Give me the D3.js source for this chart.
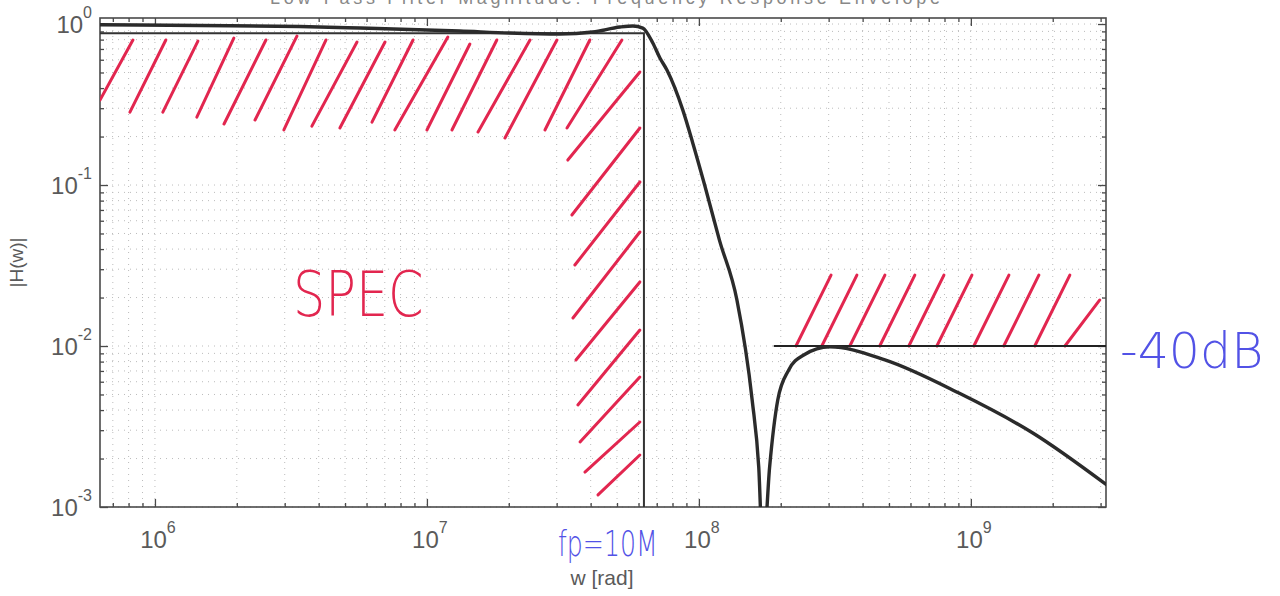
<!DOCTYPE html>
<html>
<head>
<meta charset="utf-8">
<script src="https://cdn.jsdelivr.net/npm/d3@7"></script>
<style>
  body { margin: 0; background: #fff; }
  svg { display: block; font-family: "Liberation Sans", Arial, sans-serif; }
</style>
</head>
<body>
<svg id="chart" width="1280" height="596"></svg>
<script>
// axis ranges
const xDomain = [6.28e5, 3.14e9];
const yDomain = [1e-3, 1.09];

// tick labels (exponents of the decades)
const xMajor = [1e6, 1e7, 1e8, 1e9];
const xExp = ["6", "7", "8", "9"];
const yMajor = [1e-3, 1e-2, 1e-1, 1];
const yExp = ["-3", "-2", "-1", "0"];

// filter response: w [rad], |H(w)|
const respW = [6.28e5, 1.46e6, 3.41e6, 5.68e6, 1.32e7, 2.02e7, 3.08e7, 4.07e7, 5.13e7, 5.72e7,
               6.22e7, 6.77e7, 7.19e7, 7.63e7, 8.73e7, 9.50e7, 1.05e8, 1.19e8, 1.38e8, 1.57e8,
               1.66e8, 1.72e8, 1.82e8, 1.95e8, 2.14e8, 2.43e8, 3.03e8, 4.83e8, 9.04e8, 1.69e9, 3.16e9];
const respH = [0.99, 0.98, 0.965, 0.944, 0.905, 0.879, 0.867, 0.892, 0.958, 0.972,
               0.944, 0.762, 0.615, 0.518, 0.292, 0.182, 0.100, 0.0455, 0.0193, 0.00462,
               0.00177, 0.0005, 0.00177, 0.00462, 0.0071, 0.0088, 0.0099, 0.0082, 0.0051, 0.00288, 0.00137];

// spec envelope
const passEdge = 6.28e7;   // fp = 10 MHz
const passLevel = 0.875;
const stopEdge = 1.885e8;
const stopLevel = 0.01;    // -40 dB

// hand drawn hatching, [log10 w bottom, log10 H bottom, log10 w top, log10 H top]
const passHatch = [
  [5.798, -0.472, 5.919, -0.099], [5.908, -0.547, 6.040, -0.099], [6.029, -0.547, 6.158, -0.106],
  [6.154, -0.578, 6.290, -0.087], [6.254, -0.621, 6.408, -0.099], [6.368, -0.596, 6.522, -0.075],
  [6.474, -0.658, 6.629, -0.099], [6.577, -0.634, 6.743, -0.112], [6.680, -0.646, 6.846, -0.112],
  [6.798, -0.609, 6.949, -0.099], [6.882, -0.658, 7.077, -0.081], [7.000, -0.658, 7.158, -0.124],
  [7.092, -0.658, 7.257, -0.099], [7.188, -0.671, 7.379, -0.099], [7.287, -0.708, 7.478, -0.099],
  [7.434, -0.658, 7.599, -0.099], [7.515, -0.646, 7.717, -0.099]
];
const edgeHatch = [
  [7.518, -0.845, 7.783, -0.298], [7.533, -1.186, 7.783, -0.646], [7.544, -1.497, 7.783, -0.981],
  [7.537, -1.826, 7.783, -1.292], [7.548, -2.087, 7.783, -1.602], [7.555, -2.366, 7.783, -1.901],
  [7.563, -2.596, 7.783, -2.193], [7.581, -2.783, 7.783, -2.472], [7.629, -2.925, 7.783, -2.677]
];
const stopHatch = [
  [8.357, -2.0, 8.486, -1.56], [8.452, -2.0, 8.581, -1.56], [8.555, -2.0, 8.684, -1.56],
  [8.665, -2.0, 8.794, -1.56], [8.772, -2.0, 8.901, -1.56], [8.875, -2.0, 9.004, -1.56],
  [9.011, -2.0, 9.140, -1.56], [9.121, -2.0, 9.250, -1.56], [9.235, -2.0, 9.364, -1.56],
  [9.346, -2.0, 9.474, -1.714]
];

const width = 1280, height = 596;
const margin = { top: 18, right: 174, bottom: 89, left: 100 };
const x0 = margin.left, x1 = width - margin.right;
const y0 = height - margin.bottom, y1 = margin.top;

const svg = d3.select("#chart");

const x = d3.scaleLog().domain(xDomain).range([x0, x1]);
const y = d3.scaleLog().domain(yDomain).range([y0, y1]);

const axisColor = "#4a4a4a";
const red = "#e2264f";
const blue = "#5252e6";

// title, mostly cut off at top of the scan
svg.append("text")
  .attr("x", 605).attr("y", 4)
  .attr("text-anchor", "middle")
  .attr("font-size", 18)
  .attr("fill", "#888")
  .attr("textLength", 670)
  .text("Low-Pass Filter Magnitude: Frequency Response Envelope");

svg.append("defs").append("clipPath").attr("id", "plot")
  .append("rect").attr("x", x0).attr("y", y1).attr("width", x1 - x0).attr("height", y0 - y1);

// dotted grid
const grid = svg.append("g")
  .attr("stroke", "#999")
  .attr("stroke-width", 1)
  .attr("stroke-dasharray", "1,5")
  .attr("opacity", 0.65);
grid.selectAll("line.gx").data(x.ticks()).join("line")
  .attr("class", "gx")
  .attr("x1", d => x(d)).attr("x2", d => x(d))
  .attr("y1", y1).attr("y2", y0);
grid.selectAll("line.gy").data(y.ticks()).join("line")
  .attr("class", "gy")
  .attr("x1", x0).attr("x2", x1)
  .attr("y1", d => y(d)).attr("y2", d => y(d));

// ticks on all four sides, pointing inward
const tickAxis = (axis, values, size, transform) => {
  const g = svg.append("g")
    .attr("transform", transform)
    .call(axis.tickValues(values).tickSize(size).tickSizeOuter(0).tickFormat(""));
  g.select(".domain").remove();
  g.selectAll("line").attr("stroke", axisColor).attr("stroke-width", 1.3);
};
const minorX = x.ticks().filter(d => !xMajor.includes(d));
const minorY = y.ticks().filter(d => !yMajor.includes(d));
tickAxis(d3.axisBottom(x), xMajor, -8, `translate(0,${y0})`);
tickAxis(d3.axisBottom(x), minorX, -4, `translate(0,${y0})`);
tickAxis(d3.axisTop(x), xMajor, -8, `translate(0,${y1})`);
tickAxis(d3.axisTop(x), minorX, -4, `translate(0,${y1})`);
tickAxis(d3.axisLeft(y), yMajor, -8, `translate(${x0},0)`);
tickAxis(d3.axisLeft(y), minorY, -4, `translate(${x0},0)`);
tickAxis(d3.axisRight(y), yMajor, -8, `translate(${x1},0)`);
tickAxis(d3.axisRight(y), minorY, -4, `translate(${x1},0)`);

// box
svg.append("rect")
  .attr("x", x0).attr("y", y1)
  .attr("width", x1 - x0).attr("height", y0 - y1)
  .attr("fill", "none")
  .attr("stroke", axisColor)
  .attr("stroke-width", 1.6);

// tick labels 10^n
const xl = svg.append("g").attr("fill", "#5a5a5a").attr("font-size", 24);
xMajor.forEach((v, i) => {
  const t = xl.append("text")
    .attr("x", x(v) + 3).attr("y", y0 + 41)
    .attr("text-anchor", "middle");
  t.append("tspan").text("10");
  t.append("tspan").attr("dy", -15).attr("font-size", 16).text(xExp[i]);
});
const yl = svg.append("g").attr("fill", "#5a5a5a").attr("font-size", 24);
yMajor.forEach((v, i) => {
  const t = yl.append("text")
    .attr("x", x0 - 8).attr("y", y(v) + 9)
    .attr("text-anchor", "end");
  t.append("tspan").text("10");
  t.append("tspan").attr("dy", -15).attr("font-size", 16).text(yExp[i]);
});

// axis titles
svg.append("text")
  .attr("x", 602).attr("y", 585)
  .attr("text-anchor", "middle")
  .attr("font-size", 21)
  .attr("fill", "#5a5a5a")
  .text("w [rad]");
svg.append("text")
  .attr("transform", `translate(23,${(y0 + y1) / 2}) rotate(-90)`)
  .attr("text-anchor", "middle")
  .attr("font-size", 19)
  .attr("fill", "#5a5a5a")
  .text("|H(w)|");

const plot = svg.append("g").attr("clip-path", "url(#plot)");

// hatching
const hatch = plot.append("g")
  .attr("stroke", red)
  .attr("stroke-width", 3)
  .attr("stroke-linecap", "round")
  .attr("fill", "none");
hatch.selectAll("line")
  .data(passHatch.concat(edgeHatch, stopHatch))
  .join("line")
  .attr("x1", d => x(10 ** d[0])).attr("y1", d => y(10 ** d[1]))
  .attr("x2", d => x(10 ** d[2])).attr("y2", d => y(10 ** d[3]));

// spec envelope lines
plot.append("path")
  .attr("d", d3.line()([[x(xDomain[0]), y(passLevel)], [x(passEdge), y(passLevel)], [x(passEdge), y(yDomain[0])]]))
  .attr("fill", "none")
  .attr("stroke", "#333")
  .attr("stroke-width", 2);
plot.append("line")
  .attr("x1", x(stopEdge)).attr("x2", x(xDomain[1]))
  .attr("y1", y(stopLevel)).attr("y2", y(stopLevel))
  .attr("stroke", "#222")
  .attr("stroke-width", 2.2);

// response curve
const resp = respW.map((w, i) => ({ w, h: respH[i] }));
plot.append("path")
  .datum(resp)
  .attr("d", d3.line().x(d => x(d.w)).y(d => y(d.h)).curve(d3.curveMonotoneX))
  .attr("fill", "none")
  .attr("stroke", "#2b2b2b")
  .attr("stroke-width", 3.4)
  .attr("stroke-linejoin", "round");

// handwritten notes (squeezed horizontally like the pen strokes)
const note = (txt, px, py, size, sx, color) => svg.append("text")
  .attr("transform", `translate(${px},${py}) scale(${sx},1)`)
  .attr("font-family", "DejaVu Sans, sans-serif")
  .attr("font-weight", 200)
  .attr("font-size", size)
  .attr("fill", color)
  .text(txt);
note("SPEC", 293, 316, 62, 0.82, red);
note("fp=10M", 558, 556, 36, 0.7, blue);
note("-40dB", x1 + 14, y(stopLevel) + 22, 50, 0.98, blue);
</script>
</body>
</html>
